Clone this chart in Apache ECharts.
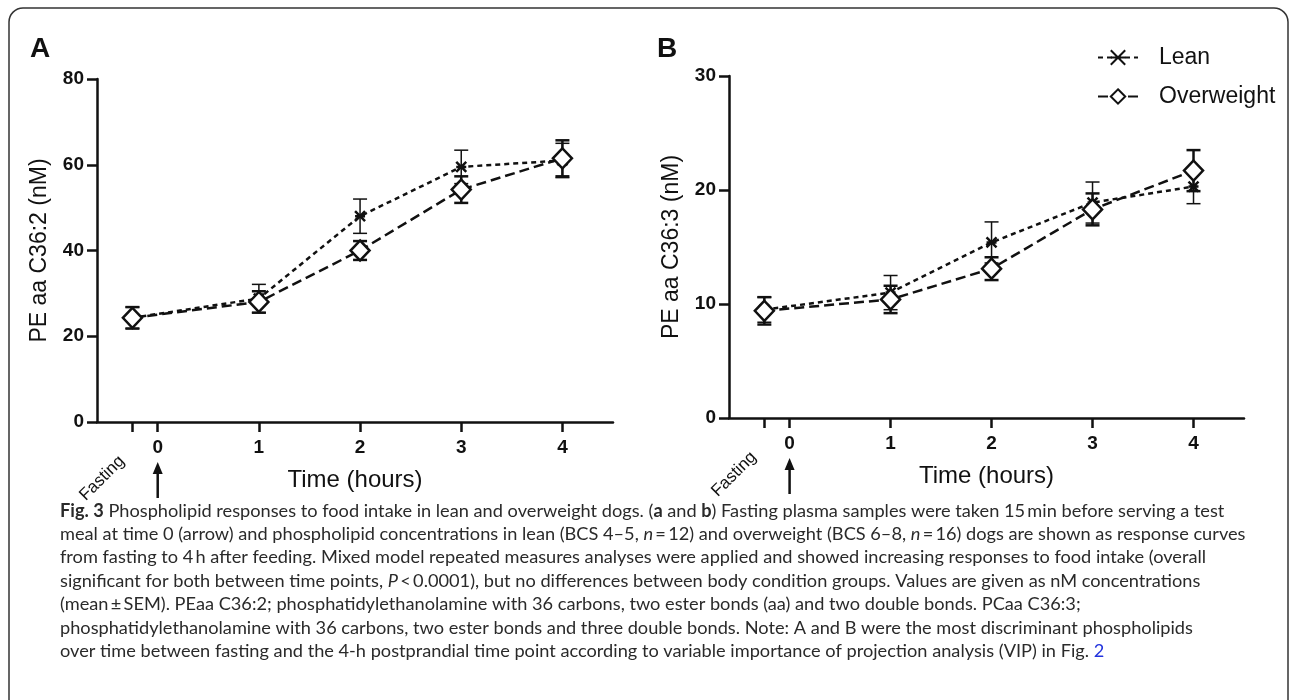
<!DOCTYPE html>
<html>
<head>
<meta charset="utf-8">
<script src="https://cdn.jsdelivr.net/npm/echarts@6/dist/echarts.min.js"></script>
<style>
html,body{margin:0;padding:0;background:#fff;}
#chart{width:1293px;height:700px;}
</style>
</head>
<body>
<div id="chart"></div>
<script>
// ---- data ----
var timePoints = [-0.25, 1, 2, 3, 4];          // Fasting, 1h..4h
var xTickValues = [-0.25, 0, 1, 2, 3, 4];
var xLabelValues = [0, 1, 2, 3, 4];
var fastingLabel = 'Fasting';

var leanA = [24.3, 28.8, 48.0, 59.5, 61.0];
var leanA_sem = [2.5, 3.3, 4.0, 3.9, 4.0];
var overA = [24.3, 28.0, 40.0, 54.2, 61.5];
var overA_sem = [2.5, 2.5, 2.2, 3.1, 4.2];

var leanB = [9.5, 11.0, 15.4, 18.9, 20.3];
var leanB_sem = [1.1, 1.5, 1.8, 1.8, 1.5];
var overB = [9.4, 10.4, 13.1, 18.3, 21.7];
var overB_sem = [1.2, 1.2, 1.0, 1.4, 1.8];

var yTitleA = 'PE aa C36:2 (nM)';
var yTitleB = 'PE aa C36:3 (nM)';
var xTitle = 'Time (hours)';

var captionLines = [
  '{b|Fig. 3} Phospholipid responses to food intake in lean and overweight dogs. ({b|a} and {b|b}) Fasting plasma samples were taken 15\u2009min before serving a test',
  'meal at time 0 (arrow) and phospholipid concentrations in lean (BCS 4\u20135, {i|n}\u2009=\u200912) and overweight (BCS 6\u20138, {i|n}\u2009=\u200916) dogs are shown as response curves',
  'from fasting to 4\u2009h after feeding. Mixed model repeated measures analyses were applied and showed increasing responses to food intake (overall',
  'significant for both between time points, {i|P}\u2009<\u20090.0001), but no differences between body condition groups. Values are given as nM concentrations',
  '(mean\u2009\u00b1\u2009SEM). PEaa C36:2; phosphatidylethanolamine with 36 carbons, two ester bonds (aa) and two double bonds. PCaa C36:3;',
  'phosphatidylethanolamine with 36 carbons, two ester bonds and three double bonds. Note: A and B were the most discriminant phospholipids',
  'over time between fasting and the 4-h postprandial time point according to variable importance of projection analysis (VIP) in Fig. {blue|2}'
];

// ---- helpers ----
function pairs(xs, ys){ return xs.map(function(x,i){ return [x, ys[i]]; }); }
function errData(xs, m, s){ return xs.map(function(x,i){ return [x, m[i]-s[i], m[i]+s[i]]; }); }

var AX = 'Liberation Sans, Arial, sans-serif';
var CF = 'Lato, Open Sans, sans-serif';
var CS = 18.2, LH = 23.4;
var asterisk = 'path://M0,0 L10,10 M10,0 L0,10 M0,5 L10,5';

function errSeries(name, xi, yi, data, lw){
  return {
    type: 'custom', name: name, xAxisIndex: xi, yAxisIndex: yi, z: 1,
    data: data,
    renderItem: function(params, api){
      var x = api.value(0);
      var lo = api.coord([x, api.value(1)]);
      var hi = api.coord([x, api.value(2)]);
      var w = 7;
      var st = {stroke: '#111', lineWidth: lw};
      return {type: 'group', children: [
        {type: 'line', shape: {x1: lo[0], y1: lo[1], x2: hi[0], y2: hi[1]}, style: st},
        {type: 'line', shape: {x1: lo[0]-w, y1: lo[1], x2: lo[0]+w, y2: lo[1]}, style: st},
        {type: 'line', shape: {x1: hi[0]-w, y1: hi[1], x2: hi[0]+w, y2: hi[1]}, style: st}
      ]};
    }
  };
}
function leanSeries(xi, yi, data){
  return {type: 'line', name: 'Lean', xAxisIndex: xi, yAxisIndex: yi, z: 3, data: data,
    symbol: asterisk, symbolSize: 10,
    itemStyle: {color: '#111', borderColor: '#111', borderWidth: 2.5},
    lineStyle: {color: '#111', width: 2.5, type: [5, 4]}};
}
function overSeries(xi, yi, data){
  return {type: 'line', name: 'Overweight', xAxisIndex: xi, yAxisIndex: yi, z: 4, data: data,
    symbol: 'diamond', symbolSize: [19, 20],
    itemStyle: {color: '#fff', borderColor: '#111', borderWidth: 2.5},
    lineStyle: {color: '#111', width: 2.5, type: [10, 5]}};
}
function mainX(gi){
  return {type: 'value', gridIndex: gi, min: -0.6, max: 4.5,
    axisLine: {show: true, onZero: false, lineStyle: {color: '#111', width: 2.5}},
    axisTick: {show: true, length: 10, lineStyle: {color: '#111', width: 2.5}, customValues: xTickValues},
    axisLabel: {customValues: xLabelValues, margin: 16, color: '#111', fontFamily: AX, fontWeight: 'bold', fontSize: 19},
    splitLine: {show: false},
    name: xTitle, nameLocation: 'middle', nameGap: 46,
    nameTextStyle: {fontFamily: AX, fontSize: 24, color: '#111'}
  };
}
function fastX(gi){
  return {type: 'value', gridIndex: gi, min: -0.6, max: 4.5, position: 'bottom',
    axisLine: {show: false, onZero: false}, axisTick: {show: false}, splitLine: {show: false},
    axisLabel: {customValues: [-0.25], rotate: 45, margin: 26, color: '#111', fontFamily: AX, fontSize: 17,
      padding: [0, 15, 0, 0],
      formatter: function(){ return fastingLabel; }}
  };
}
function mainY(gi, max, interval, title){
  return {type: 'value', gridIndex: gi, min: 0, max: max, interval: interval,
    axisLine: {show: true, onZero: false, lineStyle: {color: '#111', width: 2.5}},
    axisTick: {show: true, length: 10, lineStyle: {color: '#111', width: 2.5}},
    axisLabel: {margin: 13, color: '#111', fontFamily: AX, fontWeight: 'bold', fontSize: 19},
    splitLine: {show: false},
    name: title, nameLocation: 'middle', nameGap: 46, nameRotate: 90,
    nameTextStyle: {fontFamily: AX, fontSize: 23, color: '#111'}
  };
}

var chart = echarts.init(document.getElementById('chart'), null, {renderer: 'canvas'});
var option = {
  backgroundColor: '#fff',
  animation: false,
  title: [
    {text: 'A', left: 30, top: 35, padding: 0, textStyle: {fontFamily: AX, fontWeight: 'bold', fontSize: 28, color: '#111'}},
    {text: 'B', left: 657, top: 35, padding: 0, textStyle: {fontFamily: AX, fontWeight: 'bold', fontSize: 28, color: '#111'}},
    {text: captionLines.join('\n'), left: 60, top: 499, padding: 0,
      textStyle: {fontFamily: CF, fontSize: CS, fontWeight: 'normal', lineHeight: LH, color: '#2a2a2a',
        rich: {
          b: {fontFamily: CF, fontSize: CS, fontWeight: 'bold', color: '#2a2a2a', lineHeight: LH},
          i: {fontFamily: CF, fontSize: CS, fontStyle: 'italic', color: '#2a2a2a', lineHeight: LH},
          blue: {fontFamily: CF, fontSize: CS, color: '#2233dd', lineHeight: LH}
        }}}
  ],
  legend: {
    data: ['Lean', 'Overweight'], orient: 'vertical', left: 1097, top: 46, padding: 0,
    itemWidth: 40, itemHeight: 18, itemGap: 16,
    textStyle: {fontFamily: AX, fontSize: 23, color: '#111', padding: [0, 0, 0, 16]}
  },
  grid: [
    {left: 97, top: 79, width: 516, height: 343, containLabel: false},
    {left: 729, top: 76, width: 515, height: 342, containLabel: false}
  ],
  xAxis: [mainX(0), fastX(0), mainX(1), fastX(1)],
  yAxis: [mainY(0, 80, 20, yTitleA), mainY(1, 30, 10, yTitleB)],
  graphic: [
    {id: 'frame', type: 'rect', shape: {x: 9, y: 8, width: 1279, height: 730, r: 14},
      style: {fill: 'none', stroke: '#333', lineWidth: 1.5}, silent: true}
  ],
  series: [
    errSeries('errLeanA', 0, 0, errData(timePoints, leanA, leanA_sem), 1.5),
    errSeries('errOverA', 0, 0, errData(timePoints, overA, overA_sem), 2.5),
    leanSeries(0, 0, pairs(timePoints, leanA)),
    overSeries(0, 0, pairs(timePoints, overA)),
    errSeries('errLeanB', 2, 1, errData(timePoints, leanB, leanB_sem), 1.5),
    errSeries('errOverB', 2, 1, errData(timePoints, overB, overB_sem), 2.5),
    leanSeries(2, 1, pairs(timePoints, leanB)),
    overSeries(2, 1, pairs(timePoints, overB))
  ]
};
chart.setOption(option);

// arrows marking meal time 0, positioned via the axes' scales
function arrow(id, xi, yi){
  var p = chart.convertToPixel({xAxisIndex: xi, yAxisIndex: yi}, [0, 0]);
  var x = p[0], top = p[1] + 40, bot = p[1] + 76;
  return [
    {id: id + 'l', type: 'line', shape: {x1: x, y1: top + 8, x2: x, y2: bot}, style: {stroke: '#111', lineWidth: 2.5}, silent: true},
    {id: id + 'h', type: 'polygon', shape: {points: [[x, top], [x - 5, top + 12], [x + 5, top + 12]]}, style: {fill: '#111'}, silent: true}
  ];
}
chart.setOption({graphic: arrow('arA', 0, 0).concat(arrow('arB', 2, 1))});
</script>
</body>
</html>
